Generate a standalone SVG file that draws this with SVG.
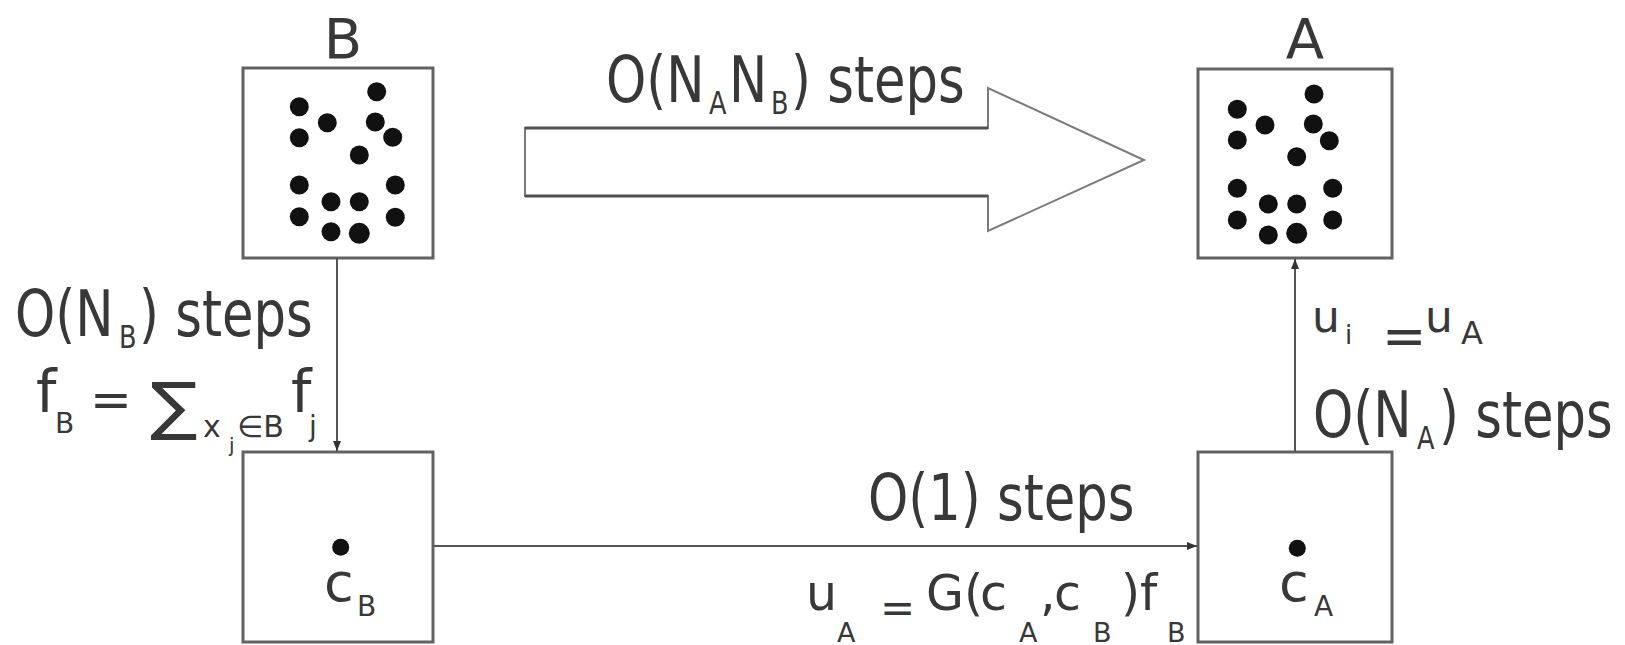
<svg xmlns="http://www.w3.org/2000/svg" width="1625" height="645" viewBox="0 0 1625 645">
<style>
.box{fill:#fff;stroke:#626262;stroke-width:3}
.dot{fill:#111}
.t{font-family:"DejaVu Sans","Verdana",sans-serif;fill:#383838}
.lbl{font-size:64px}
.nm{font-size:56px}
.sub{font-size:32px}
.conn{stroke:#555;stroke-width:2;fill:none}
.big{fill:#fff;stroke:#7a7a7a;stroke-width:2;stroke-linejoin:miter}
.shaft{stroke:#505050;stroke-width:3}
</style>
<defs>
<marker id="ah" viewBox="0 0 10 8" refX="10" refY="4" markerWidth="10" markerHeight="8" markerUnits="userSpaceOnUse" orient="auto">
<path d="M0,0 L10,4 L0,8 z" fill="#333"/>
</marker>
</defs>
<rect width="1625" height="645" fill="#fff"/>

<g id="node-B">
<rect class="box" x="243" y="68" width="190" height="190"/>
<text class="t nm" x="343" y="58" text-anchor="middle">B</text>
<circle class="dot" cx="376.7" cy="91.7" r="9.5"/>
<circle class="dot" cx="299.3" cy="106.7" r="9.5"/>
<circle class="dot" cx="327.3" cy="122.7" r="9.5"/>
<circle class="dot" cx="375.3" cy="122" r="9.5"/>
<circle class="dot" cx="299.3" cy="137.7" r="9.5"/>
<circle class="dot" cx="392.7" cy="137.3" r="9.5"/>
<circle class="dot" cx="359.3" cy="155" r="9.5"/>
<circle class="dot" cx="299.3" cy="185" r="9.5"/>
<circle class="dot" cx="395.3" cy="185" r="9.5"/>
<circle class="dot" cx="331" cy="201.7" r="9.5"/>
<circle class="dot" cx="359.3" cy="201.7" r="9.5"/>
<circle class="dot" cx="299.3" cy="216.7" r="9.5"/>
<circle class="dot" cx="395.3" cy="217.3" r="9.5"/>
<circle class="dot" cx="331" cy="231.7" r="9.5"/>
<circle class="dot" cx="359.3" cy="233.3" r="10.5"/>
</g>

<g id="node-A">
<rect class="box" x="1198" y="69" width="194" height="189"/>
<text class="t nm" x="1305" y="58" text-anchor="middle">A</text>
<circle class="dot" cx="1314" cy="94" r="9.5"/>
<circle class="dot" cx="1237.3" cy="109.3" r="9.5"/>
<circle class="dot" cx="1265" cy="125" r="9.5"/>
<circle class="dot" cx="1313.3" cy="124" r="9.5"/>
<circle class="dot" cx="1237.3" cy="140" r="9.5"/>
<circle class="dot" cx="1329.3" cy="140.7" r="9.5"/>
<circle class="dot" cx="1296.7" cy="156.7" r="9.5"/>
<circle class="dot" cx="1237.3" cy="188.3" r="9.5"/>
<circle class="dot" cx="1332.7" cy="188.3" r="9.5"/>
<circle class="dot" cx="1268.3" cy="204" r="9.5"/>
<circle class="dot" cx="1296.7" cy="204" r="9.5"/>
<circle class="dot" cx="1237.3" cy="220" r="9.5"/>
<circle class="dot" cx="1332.7" cy="220" r="9.5"/>
<circle class="dot" cx="1268.3" cy="235" r="9.5"/>
<circle class="dot" cx="1296.7" cy="233.3" r="10.5"/>
</g>

<g id="node-cB">
<rect class="box" x="243" y="452" width="190" height="190"/>
<circle class="dot" cx="340.7" cy="547.3" r="8.5"/>
<text class="t" font-size="54" x="324" y="601">c</text>
<text class="t" font-size="28" x="357" y="616">B</text>
</g>

<g id="node-cA">
<rect class="box" x="1198" y="452" width="194" height="190"/>
<circle class="dot" cx="1297.3" cy="548.3" r="8.5"/>
<text class="t" font-size="54" x="1279" y="601">c</text>
<text class="t" font-size="28" x="1314" y="616">A</text>
</g>

<g id="connectors">
<polygon class="big" points="525,128 988,128 988,88 1144,160 988,231 988,196 525,196"/>
<line class="shaft" x1="525" y1="128" x2="988" y2="128"/>
<line class="shaft" x1="525" y1="196" x2="988" y2="196"/>
<line class="conn" x1="337" y1="258" x2="337" y2="451" marker-end="url(#ah)"/>
<line class="conn" x1="433" y1="546" x2="1197" y2="546" marker-end="url(#ah)"/>
<line class="conn" x1="1295" y1="452" x2="1295" y2="259" marker-end="url(#ah)"/>
</g>

<g id="labels">
<text class="t lbl" transform="translate(606,102) scale(0.8,1)"><tspan x="0" y="0">O(N</tspan><tspan class="sub" x="128.75" y="12">A</tspan><tspan x="153.75" y="0">N</tspan><tspan class="sub" x="206.25" y="12">B</tspan><tspan x="231.25" y="0">) steps</tspan></text>

<text class="t lbl" transform="translate(15,336) scale(0.8,1)"><tspan x="0" y="0">O(N</tspan><tspan class="sub" x="130" y="12">B</tspan><tspan x="155" y="0">) steps</tspan></text>

<text class="t lbl" transform="translate(1313,437) scale(0.8,1)"><tspan x="0" y="0">O(N</tspan><tspan class="sub" x="130" y="12">A</tspan><tspan x="157.5" y="0">) steps</tspan></text>

<text class="t lbl" transform="translate(868,520) scale(0.8,1)">O(1) steps</text>

<text class="t"><tspan font-size="58" x="36" y="412">f</tspan><tspan font-size="28" x="55" y="433">B</tspan><tspan font-size="50" x="90" y="417">=</tspan><tspan font-size="30" x="203" y="437">x</tspan><tspan font-size="20" x="229" y="452">j</tspan><tspan font-size="30" x="237" y="437">∈B</tspan><tspan font-size="58" x="291" y="412">f</tspan><tspan font-size="28" x="309" y="436">j</tspan></text>
<text class="t" font-size="64" transform="translate(150,428) scale(1.1,1)">∑</text>

<text class="t"><tspan font-size="44" x="1312" y="332">u</tspan><tspan font-size="26" x="1345" y="344">i</tspan><tspan font-size="53" x="1382" y="354">=</tspan><tspan font-size="44" x="1425" y="332">u</tspan><tspan font-size="32" x="1461" y="344">A</tspan></text>

<text class="t"><tspan font-size="49" x="806" y="610">u</tspan><tspan font-size="27" x="837" y="642">A</tspan><tspan font-size="42" x="880" y="622">=</tspan><tspan font-size="49" x="926" y="610">G(</tspan><tspan font-size="49" x="980" y="610">c</tspan><tspan font-size="27" x="1019" y="642">A</tspan><tspan font-size="49" x="1040" y="610">,</tspan><tspan font-size="49" x="1054" y="610">c</tspan><tspan font-size="27" x="1093" y="642">B</tspan><tspan font-size="49" x="1121" y="610">)f</tspan><tspan font-size="27" x="1167" y="642">B</tspan></text>
</g>
</svg>
